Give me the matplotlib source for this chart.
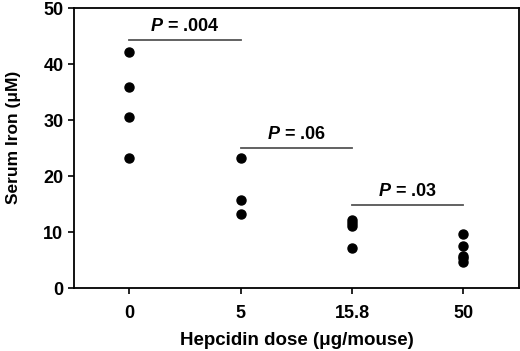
import matplotlib.pyplot as plt
import numpy as np

plt.rcParams['font.family'] = ['Liberation Sans', 'DejaVu Sans']
plt.rcParams['mathtext.fontset'] = 'custom'
plt.rcParams['mathtext.bfit'] = 'Liberation Sans:italic:bold'

doses = ['0', '5', '15.8', '50']
iron_0 = [42.1, 35.9, 30.6, 23.2]
iron_5 = [23.2, 15.8, 13.3]
iron_15 = [12.1, 11.6, 11.1, 7.2]
iron_50 = [9.6, 7.6, 5.8, 5.3, 4.6]
groups = [iron_0, iron_5, iron_15, iron_50]

# comparisons: (left group, right group), bar height, label
p_pairs = [(0, 1), (1, 2), (2, 3)]
p_heights = [44.3, 25.0, 14.8]
p_labels = ['.004', '.06', '.03']

fig = plt.figure(figsize=(5.2, 3.51), dpi=100)
ax = fig.add_axes([0.142, 0.179, 0.856, 0.798])

for i, vals in enumerate(groups):
    ax.plot([i] * len(vals), vals, 'o', color='black', markersize=6.5)

for (a, b), h, lab in zip(p_pairs, p_heights, p_labels):
    ax.plot([a, b], [h, h], color='#555555', lw=1.3)
    ax.text((a + b) / 2, h + 0.9, r'$\mathbfit{P}$' + ' = ' + lab,
            ha='center', va='bottom', fontsize=13, fontweight='bold')

ax.set_xlim(-0.5, 3.5)
ax.set_ylim(0, 50)
ax.set_xticks(range(len(doses)))
ax.set_xticklabels(doses)
ax.set_yticks(np.arange(0, 51, 10))
ax.tick_params(direction='out', length=4, labelsize=13, width=1.2)
ax.tick_params(axis='x', pad=8)
for t in ax.get_xticklabels() + ax.get_yticklabels():
    t.set_fontweight('bold')
for s in ax.spines.values():
    s.set_linewidth(1.3)

ax.set_xlabel('Hepcidin dose (\u03bcg/mouse)', fontsize=13.5, fontweight='bold', labelpad=7)
ax.set_ylabel('Serum Iron (\u03bcM)', fontsize=12.5, fontweight='semibold')
ax.yaxis.set_label_coords(-0.118, 0.537)

fig.savefig('out.png', dpi=100)
